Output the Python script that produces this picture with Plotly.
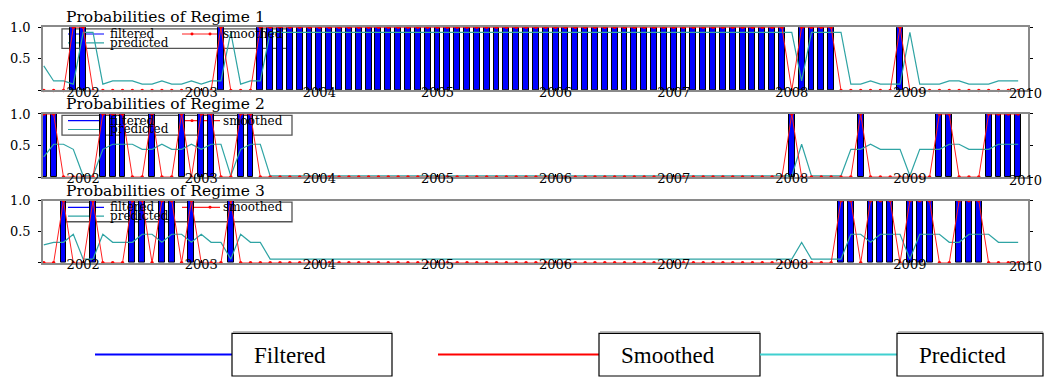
import plotly.graph_objects as go

# ---------------- data (monthly, 2001:09 - 2009:12) ----------------
start_year, start_month, n_months = 2001, 9, 100
months = [start_year + (start_month - 1) / 12 + k / 12 for k in range(n_months)]

year_ticks = [2002, 2003, 2004, 2005, 2006, 2007, 2008, 2009, 2010]
year_labels = ["2002", "2003", "2004", "2005", "2006", "2007", "2008", "2009", ""]
last_year_label = "2010"

filtered_1 = [0,0,0,1,1,0,0,0,0,0, 0,0,0,0,0,0,0,0,1,0, 0,0,1,1,1,1,1,1,1,1,
              1,1,1,1,1,1,1,1,1,1, 1,1,1,1,1,1,1,1,1,1, 1,1,1,1,1,1,1,1,1,1,
              1,1,1,1,1,1,1,1,1,1, 1,1,1,1,1,1,0,1,1,1, 1,0,0,0,0,0,0,1,0,0,
              0,0,0,0,0,0,0,0,0,0]
filtered_2 = [1,1,0,0,0,0,1,1,1,0, 0,1,0,0,1,0,1,1,0,0, 1,1,0,0,0,0,0,0,0,0,
              0,0,0,0,0,0,0,0,0,0, 0,0,0,0,0,0,0,0,0,0, 0,0,0,0,0,0,0,0,0,0,
              0,0,0,0,0,0,0,0,0,0, 0,0,0,0,0,0,1,0,0,0, 0,0,0,1,0,0,0,0,0,0,
              0,1,1,0,0,0,1,1,1,1]
filtered_3 = [0,0,1,0,0,1,0,0,0,1, 1,0,1,1,0,1,0,0,0,1, 0,0,0,0,0,0,0,0,0,0,
              0,0,0,0,0,0,0,0,0,0, 0,0,0,0,0,0,0,0,0,0, 0,0,0,0,0,0,0,0,0,0,
              0,0,0,0,0,0,0,0,0,0, 0,0,0,0,0,0,0,0,0,0, 0,1,1,0,1,1,1,0,1,1,
              1,0,0,1,1,1,0,0,0,0]

smoothed_1 = [0,0,0,1,1,0,0,0,0,0, 0,0,0,0,0,0,0,0,1,0, 0,0,1,1,1,1,1,1,1,1,
              1,1,1,1,1,1,1,1,1,1, 1,1,1,1,1,1,1,1,1,1, 1,1,1,1,1,1,1,1,1,1,
              1,1,1,1,1,1,1,1,1,1, 1,1,1,1,1,1,0,1,1,1, 1,0,0,0,0,0,0,1,0,0,
              0,0,0,0,0,0,0,0,0,0]
smoothed_2 = [1,1,0,0,0,0,1,1,1,0, 0,1,0,0,1,0,1,1,0,0, 1,1,0,0,0,0,0,0,0,0,
              0,0,0,0,0,0,0,0,0,0, 0,0,0,0,0,0,0,0,0,0, 0,0,0,0,0,0,0,0,0,0,
              0,0,0,0,0,0,0,0,0,0, 0,0,0,0,0,0,1,0,0,0, 0,0,0,1,0,0,0,0,0,0,
              0,1,1,0,0,0,1,1,1,1]
smoothed_3 = [0,0,1,0,0,1,0,0,0,1, 1,0,1,1,0,1,0,0,0,1, 0,0,0,0,0,0,0,0,0,0,
              0,0,0,0,0,0,0,0,0,0, 0,0,0,0,0,0,0,0,0,0, 0,0,0,0,0,0,0,0,0,0,
              0,0,0,0,0,0,0,0,0,0, 0,0,0,0,0,0,0,0,0,0, 0,1,1,0,1,1,1,0,1,1,
              1,0,0,1,1,1,0,0,0,0]

predicted_1 = [.39,.15,.15,.10,.92,.92,.10,.15,.15,.15, .10,.10,.15,.10,.10,.15,.10,.15,.15,.92,
               .10,.15,.15,.92,.92,.92,.92,.92,.92,.92, .92,.92,.92,.92,.92,.92,.92,.92,.92,.92,
               .92,.92,.92,.92,.92,.92,.92,.92,.92,.92, .92,.92,.92,.92,.92,.92,.92,.92,.92,.92,
               .92,.92,.92,.92,.92,.92,.92,.92,.92,.92, .92,.92,.92,.92,.92,.92,.92,.15,.92,.92,
               .92,.92,.10,.10,.15,.10,.10,.10,.92,.10, .10,.10,.15,.15,.10,.10,.10,.15,.15,.15]
predicted_2 = [.32,.52,.52,.44,.02,.02,.44,.52,.52,.52, .44,.44,.52,.44,.44,.52,.44,.52,.52,.02,
               .44,.52,.52,.02,.02,.02,.02,.02,.02,.02, .02,.02,.02,.02,.02,.02,.02,.02,.02,.02,
               .02,.02,.02,.02,.02,.02,.02,.02,.02,.02, .02,.02,.02,.02,.02,.02,.02,.02,.02,.02,
               .02,.02,.02,.02,.02,.02,.02,.02,.02,.02, .02,.02,.02,.02,.02,.02,.02,.52,.02,.02,
               .02,.02,.44,.44,.52,.44,.44,.44,.02,.44, .44,.44,.52,.52,.44,.44,.44,.52,.52,.52]
predicted_3 = [.29,.33,.33,.46,.06,.06,.46,.33,.33,.33, .46,.46,.33,.46,.46,.33,.46,.33,.33,.06,
               .46,.33,.33,.06,.06,.06,.06,.06,.06,.06, .06,.06,.06,.06,.06,.06,.06,.06,.06,.06,
               .06,.06,.06,.06,.06,.06,.06,.06,.06,.06, .06,.06,.06,.06,.06,.06,.06,.06,.06,.06,
               .06,.06,.06,.06,.06,.06,.06,.06,.06,.06, .06,.06,.06,.06,.06,.06,.06,.33,.06,.06,
               .06,.06,.46,.46,.33,.46,.46,.46,.06,.46, .46,.46,.33,.33,.46,.46,.46,.33,.33,.33]

panel_titles = ["Probabilities of Regime 1", "Probabilities of Regime 2", "Probabilities of Regime 3"]
legend_names = ["filtered", "smoothed", "predicted"]
bottom_names = ["Filtered", "Smoothed", "Predicted"]

# ---------------- styling ----------------
W, H = 1044, 377
BLUE, RED, TEAL = "#0000FF", "#FF2020", "#2FA4A4"
SERIF = "DejaVu Serif"

def fx(p):
    return p / W

def fy(p):
    return 1 - p / H

x_left, x_right = 43, 1028
tops = [20.7, 109.0, 197.3]
bottoms = [85.0, 173.3, 260.7]

filtered = [filtered_1, filtered_2, filtered_3]
smoothed = [smoothed_1, smoothed_2, smoothed_3]
predicted = [predicted_1, predicted_2, predicted_3]

fig = go.Figure()
shapes, annotations = [], []

for k in range(3):
    xa = "x" if k == 0 else f"x{k+1}"
    ya = "y" if k == 0 else f"y{k+1}"
    outline = [1 if v > 0 else 0 for v in filtered[k]]
    fig.add_trace(go.Bar(
        x=months, y=filtered[k], width=0.05, xaxis=xa, yaxis=ya,
        marker=dict(color=BLUE, line=dict(color="black", width=outline)),
        showlegend=False, name="filtered"))
    fig.add_trace(go.Scatter(
        x=months, y=predicted[k], mode="lines", xaxis=xa, yaxis=ya,
        line=dict(color=TEAL, width=1.2), cliponaxis=False,
        showlegend=False, name="predicted"))
    fig.add_trace(go.Scatter(
        x=months, y=smoothed[k], mode="lines+markers", xaxis=xa, yaxis=ya,
        line=dict(color=RED, width=1), marker=dict(color="#FF0000", size=3.5),
        cliponaxis=False, showlegend=False, name="smoothed"))

    axis_common = dict(showgrid=False, zeroline=False, showline=True,
                       linecolor="#8a8a8a", linewidth=1.5,
                       tickfont=dict(family=SERIF, size=13, color="black"),
                       tickcolor="black")
    fig.layout[("xaxis" if k == 0 else f"xaxis{k+1}")] = dict(
        domain=[fx(x_left), fx(x_right)], range=[2001.66, 2010.0],
        tickvals=year_ticks, ticktext=year_labels, ticks="inside", ticklen=3,
        mirror=True, anchor=ya, ticklabelstandoff=-11, **axis_common)
    fig.layout[("yaxis" if k == 0 else f"yaxis{k+1}")] = dict(
        domain=[fy(bottoms[k]), fy(tops[k])], range=[0, 1],
        tickvals=[0, 0.5, 1.0], ticktext=["", "0.5", "1.0"], ticks="outside",
        ticklen=3, mirror="ticks", anchor=xa, ticklabelstandoff=5, **axis_common)

    # last year label, kept inside the page
    annotations.append(dict(
        text=last_year_label, xref="paper", yref="paper", x=fx(1044), y=fy(bottoms[k]),
        xanchor="right", yanchor="top", yshift=6, showarrow=False,
        font=dict(family=SERIF, size=13, color="black")))

    # panel title
    annotations.append(dict(
        text=panel_titles[k], xref="paper", yref="paper", x=fx(64), y=fy(tops[k]),
        xanchor="left", yanchor="bottom", yshift=-1, showarrow=False,
        font=dict(family=SERIF, size=15.5, color="black")))

    # in-panel legend box
    t = tops[k]
    shapes.append(dict(type="rect", xref="paper", yref="paper", layer="below",
                       x0=fx(62), x1=fx(292), y0=fy(t + 21.5), y1=fy(t + 1.5),
                       line=dict(color="#555555", width=1.3)))
    r1, r2 = t + 6.8, t + 15.8
    shapes.append(dict(type="line", xref="paper", yref="paper", layer="below",
                       x0=fx(68), x1=fx(104), y0=fy(r1), y1=fy(r1),
                       line=dict(color=BLUE, width=1.2)))
    shapes.append(dict(type="line", xref="paper", yref="paper", layer="below",
                       x0=fx(182), x1=fx(220), y0=fy(r1), y1=fy(r1),
                       line=dict(color=RED, width=1.2)))
    for mx in (192, 210):
        shapes.append(dict(type="circle", xref="paper", yref="paper", layer="below",
                           x0=fx(mx - 1.5), x1=fx(mx + 1.5), y0=fy(r1 + 1.5), y1=fy(r1 - 1.5),
                           fillcolor="#FF0000", line=dict(width=0)))
    shapes.append(dict(type="line", xref="paper", yref="paper", layer="below",
                       x0=fx(68), x1=fx(104), y0=fy(r2), y1=fy(r2),
                       line=dict(color=TEAL, width=1.2)))
    for txt, lx, ly in ((legend_names[0], 108, r1), (legend_names[1], 221, r1),
                        (legend_names[2], 108, r2)):
        annotations.append(dict(
            text=txt, xref="paper", yref="paper", x=fx(lx), y=fy(ly),
            xanchor="left", yanchor="middle", showarrow=False,
            font=dict(family=SERIF, size=12, color="black")))

# ---------------- bottom legend ----------------
legend_y = 354
bottom_items = [
    (BLUE, 95, 232, 392, 252),
    ("#FF0000", 438, 599, 760, 619),
    ("#40D0D0", 760, 897, 1043, 917),
]
for (col, l0, b0, b1, tx), name in zip(bottom_items, bottom_names):
    shapes.append(dict(type="line", xref="paper", yref="paper",
                       x0=fx(l0), x1=fx(b0), y0=fy(legend_y), y1=fy(legend_y),
                       line=dict(color=col, width=2)))
    shapes.append(dict(type="line", xref="paper", yref="paper",
                       x0=fx(b0 + 1), x1=fx(b1), y0=fy(331), y1=fy(331),
                       line=dict(color="#999999", width=1)))
    shapes.append(dict(type="rect", xref="paper", yref="paper",
                       x0=fx(b0), x1=fx(b1), y0=fy(376), y1=fy(332.5),
                       line=dict(color="black", width=1.2)))
    annotations.append(dict(
        text=name, xref="paper", yref="paper", x=fx(tx), y=fy(legend_y + 1),
        xanchor="left", yanchor="middle", showarrow=False,
        font=dict(family="Liberation Serif", size=23, color="black")))

fig.update_layout(
    width=W, height=H, margin=dict(l=0, r=0, t=0, b=0),
    paper_bgcolor="white", plot_bgcolor="rgba(0,0,0,0)",
    shapes=shapes, annotations=annotations, showlegend=False, bargap=0)

fig.write_html("out.html")
